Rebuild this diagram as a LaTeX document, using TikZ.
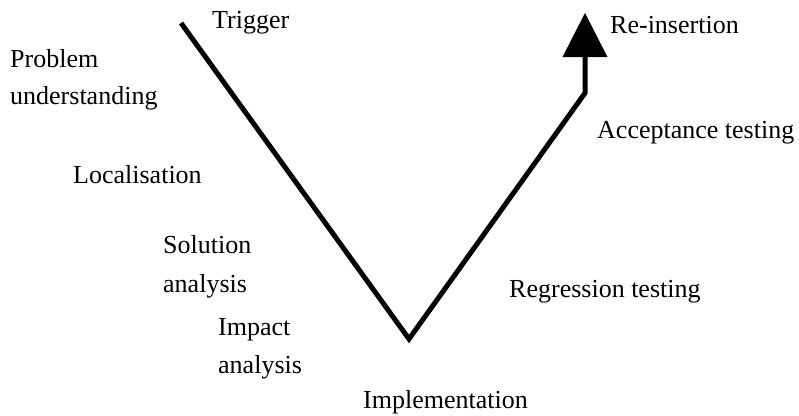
\documentclass[tikz,border=0pt]{standalone}
\usepackage{fontspec}
\setmainfont{Liberation Serif}
\usetikzlibrary{arrows.meta}
\begin{document}
\begin{tikzpicture}[x=1pt,y=-1pt,
  lbl/.style={anchor=base west,inner sep=0pt,font=\fontsize{26}{30}\selectfont},
  vline/.style={line width=5pt,line join=miter,line cap=butt}]
\useasboundingbox (0,0) rectangle (799,415);
% the V-shaped process path
\coordinate (start) at (181,23);
\coordinate (bottom) at (409,339);
\coordinate (turn) at (585,93);
\coordinate (tip) at (585,13);
\draw[vline,-{Triangle[width=45pt,length=44pt,line width=0pt]}] (start) -- (bottom) -- (turn) -- (tip);
% phase labels
\node[lbl] (trigger) at (212,28) {Trigger};
\node[lbl] (prob1) at (10,67) {Problem};
\node[lbl] (prob2) at (10,104) {understanding};
\node[lbl] (local) at (73,183) {Localisation};
\node[lbl] (sol1) at (163,253) {Solution};
\node[lbl] (sol2) at (163,292) {analysis};
\node[lbl] (imp1) at (218,335) {Impact};
\node[lbl] (imp2) at (218,373) {analysis};
\node[lbl] (impl) at (363,408) {Implementation};
\node[lbl] (regr) at (509,297) {Regression testing};
\node[lbl] (accept) at (597,138) {Acceptance testing};
\node[lbl] (reins) at (610,33) {Re-insertion};
\end{tikzpicture}
\end{document}
